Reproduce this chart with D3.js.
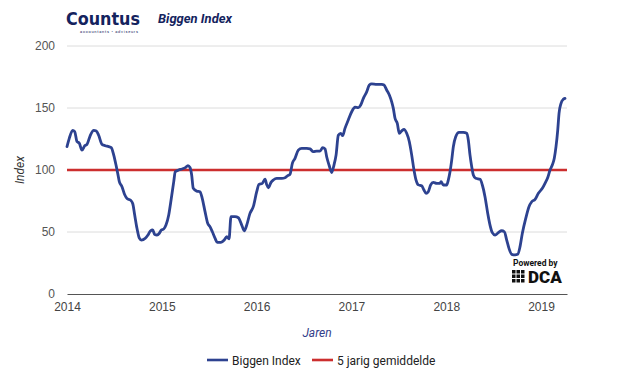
<!DOCTYPE html>
<html><head><meta charset="utf-8">
<script src="https://cdn.jsdelivr.net/npm/d3@7"></script>
<style>body{margin:0;background:#fff}svg{display:block}</style>
</head><body>
<script>
// Data (decimal years, index values)
const years = [2014.000,2014.024,2014.060,2014.081,2014.105,2014.130,2014.158,2014.187,2014.211,2014.246,2014.282,2014.309,2014.334,2014.369,2014.404,2014.440,2014.467,2014.493,2014.517,2014.535,2014.552,2014.580,2014.609,2014.633,2014.668,2014.693,2014.714,2014.738,2014.763,2014.784,2014.826,2014.854,2014.879,2014.904,2014.925,2014.949,2014.974,2014.995,2015.020,2015.044,2015.073,2015.100,2015.126,2015.142,2015.178,2015.213,2015.248,2015.276,2015.297,2015.315,2015.332,2015.368,2015.403,2015.427,2015.456,2015.484,2015.508,2015.533,2015.561,2015.585,2015.624,2015.659,2015.685,2015.709,2015.730,2015.772,2015.807,2015.843,2015.870,2015.896,2015.930,2015.965,2016.001,2016.025,2016.060,2016.089,2016.106,2016.124,2016.152,2016.176,2016.212,2016.265,2016.300,2016.328,2016.352,2016.377,2016.405,2016.440,2016.476,2016.529,2016.563,2016.598,2016.634,2016.669,2016.697,2016.722,2016.739,2016.764,2016.792,2016.816,2016.838,2016.862,2016.887,2016.908,2016.932,2016.967,2017.003,2017.038,2017.073,2017.098,2017.126,2017.161,2017.189,2017.214,2017.267,2017.320,2017.344,2017.372,2017.400,2017.425,2017.442,2017.460,2017.484,2017.505,2017.531,2017.555,2017.583,2017.611,2017.636,2017.660,2017.681,2017.706,2017.741,2017.765,2017.787,2017.811,2017.836,2017.864,2017.900,2017.935,2017.945,2017.970,2018.005,2018.022,2018.040,2018.058,2018.075,2018.100,2018.135,2018.180,2018.216,2018.233,2018.251,2018.269,2018.286,2018.311,2018.357,2018.381,2018.409,2018.438,2018.462,2018.486,2018.515,2018.550,2018.585,2018.613,2018.638,2018.662,2018.691,2018.726,2018.754,2018.778,2018.803,2018.839,2018.873,2018.902,2018.937,2018.972,2019.014,2019.042,2019.071,2019.095,2019.119,2019.140,2019.158,2019.176,2019.190,2019.211,2019.235,2019.253];
const biggenIndex = [118.8,125.5,132,131,123,121.5,116,119.6,120.7,128,132,131.5,128,120.7,119.6,118.8,118,112,104,97.3,90.6,86.5,80,77,75.8,73,63.7,53,45,43.5,45,47.6,50.8,51.6,48,47.6,49,51.6,52.4,55.6,63.7,77,90.6,98.6,100,100.8,101.9,103.5,102,96,85.2,83,82.5,77,66.4,57,54.3,50.2,45,41.7,41.7,43.5,46.2,44.4,62.4,62.4,61.5,55.6,51,55.6,65,70.4,82.5,88.4,89.2,92.7,88.4,85.7,90,91.9,93.3,93.3,93.8,95.4,96.5,105.4,109.4,116,117.5,117.5,117,114.8,115.3,115.3,118,117,110.7,104,98,104,112,128,129.6,127.7,133.6,140.3,147,150.6,150.3,152.4,157.8,163,168.5,169.4,169,169,168.5,164.5,160.5,155,149.7,141.7,137.6,129.6,131.5,132.8,129.6,122.8,112,100,92,88,87.3,83.9,81.2,82.5,88,90,89.2,89.2,90.6,87.9,87.9,91.9,98.6,108,118.8,126.9,130.4,130.4,129.6,124.2,112,102.7,96,93.3,92.5,87.9,78.5,65,55.6,49.5,47.6,49.5,51,50.2,43.5,36.8,32,31.5,32,38,49,61,70.4,74.4,76.3,81.2,85.2,89.2,94,100,104,109.4,118.8,132,145.7,153.8,157,157.8];
const average = 100;
const yTicks = [0, 50, 100, 150, 200];
const xTicks = [2014, 2015, 2016, 2017, 2018, 2019];
const seriesNames = ["Biggen Index", "5 jarig gemiddelde"];
const colors = ["#2d4290", "#cc2e2e"];

const W = 625, H = 379;
const m = {l: 67, r: 58, t: 46, b: 85};
const svg = d3.select("body").append("svg").attr("width", W).attr("height", H)
  .style("font-family", "Roboto, 'Liberation Sans', Arial, sans-serif");

const x = d3.scaleLinear().domain([2014, 2019.274]).range([m.l, W - m.r]);
const y = d3.scaleLinear().domain([0, 200]).range([H - m.b, m.t]);

// grid
svg.append("g").selectAll("line").data(yTicks.filter(d => d > 0)).join("line")
  .attr("x1", x.range()[0]).attr("x2", x.range()[1])
  .attr("y1", d => y(d)).attr("y2", d => y(d))
  .attr("stroke", "#dcdcdc").attr("stroke-width", 1);

// y labels
const yAxis = d3.axisLeft(y).tickValues(yTicks).tickSize(0).tickPadding(12);
const gy = svg.append("g").attr("transform", `translate(${m.l},0)`).call(yAxis);
gy.select(".domain").remove();
gy.selectAll("text").attr("fill", "#555").style("font-size", "12px");

// x axis
const xAxis = d3.axisBottom(x).tickValues(xTicks).tickFormat(d3.format("d")).tickSize(0).tickPadding(8);
const gx = svg.append("g").attr("transform", `translate(0,${y(0)})`).call(xAxis);
gx.select(".domain").attr("stroke", "#555").attr("stroke-width", 1.2);
gx.selectAll("text").attr("fill", "#444").style("font-size", "12px");

// average line
svg.append("line")
  .attr("x1", x.range()[0]).attr("x2", x.range()[1])
  .attr("y1", y(average)).attr("y2", y(average))
  .attr("stroke", colors[1]).attr("stroke-width", 2.6);

// index line
const data = years.map((t, i) => [t, biggenIndex[i]]);
svg.append("path").datum(data)
  .attr("fill", "none").attr("stroke", colors[0]).attr("stroke-width", 2.8)
  .attr("stroke-linejoin", "round").attr("stroke-linecap", "round")
  .attr("d", d3.line().x(d => x(d[0])).y(d => y(d[1])).curve(d3.curveMonotoneX));

// axis titles
svg.append("text").attr("transform", `translate(24,${y(100)}) rotate(-90)`)
  .attr("text-anchor", "middle").style("font-size", "12px").style("font-style", "italic")
  .attr("fill", "#333").text("Index");
svg.append("text").attr("x", (m.l + W - m.r) / 2).attr("y", 337)
  .attr("text-anchor", "middle").style("font-size", "12px").style("font-style", "italic")
  .attr("fill", "#33408a").text("Jaren");

// legend
const leg = svg.append("g").attr("transform", "translate(207,360)");
const legX = [0, 105];
seriesNames.forEach((n, i) => {
  const g = leg.append("g").attr("transform", `translate(${legX[i]},0)`);
  g.append("line").attr("x1", 0).attr("x2", 21).attr("y1", 0).attr("y2", 0)
    .attr("stroke", colors[i]).attr("stroke-width", 2.6);
  g.append("text").attr("x", 25).attr("y", 4.5).style("font-size", "12px").attr("fill", "#222").text(n);
});

// header
svg.append("text").attr("x", 66).attr("y", 25).style("font-family", "'DejaVu Sans', sans-serif")
  .style("font-size", "17px").style("font-weight", "bold").attr("fill", "#14235e")
  .attr("textLength", 74).attr("lengthAdjust", "spacingAndGlyphs").text("Countus");
svg.append("text").attr("x", 80).attr("y", 33).style("font-size", "4px").attr("fill", "#14235e")
  .attr("textLength", 58).text("accountants • adviseurs");
svg.append("text").attr("x", 158).attr("y", 23).style("font-size", "13px").style("font-weight", "bold")
  .style("font-style", "italic").attr("fill", "#14235e").text("Biggen Index");

// Powered by DCA
svg.append("text").attr("x", 513).attr("y", 266).style("font-size", "8.5px").style("font-weight", "bold")
  .attr("fill", "#111").text("Powered by");
const icon = svg.append("g").attr("transform", "translate(512,270)");
d3.range(9).forEach(k => {
  icon.append("rect").attr("x", (k % 3) * 4.5).attr("y", Math.floor(k / 3) * 4.5)
    .attr("width", 3.5).attr("height", 3.5).attr("fill", "#111");
});
svg.append("text").attr("x", 528).attr("y", 283).style("font-size", "17px").style("font-weight", "900")
  .attr("fill", "#111").text("DCA");
</script>
</body></html>
